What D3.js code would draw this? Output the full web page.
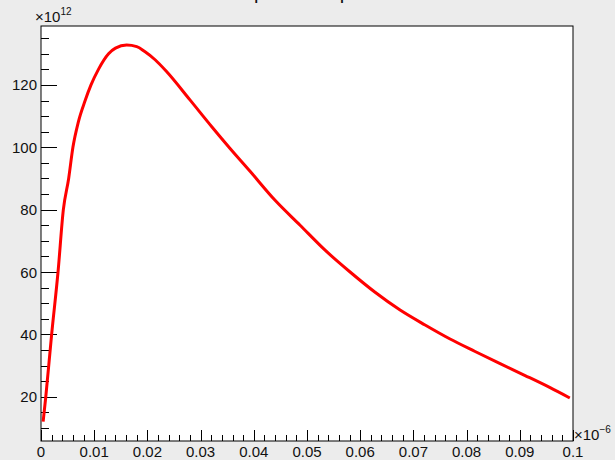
<!DOCTYPE html>
<html>
<head>
<meta charset="utf-8">
<script src="https://cdn.jsdelivr.net/npm/d3@7"></script>
<style>
  body { margin: 0; background: #ececec; }
  svg { display: block; font-family: "Liberation Sans", Arial, sans-serif; }
</style>
</head>
<body>
<div id="chart"></div>
<script>
// pulse shape, x in units of 1e-6, y in units of 1e12
const xValues = [0.0004, 0.0009, 0.0020, 0.0032, 0.0042, 0.0052, 0.0060, 0.0070, 0.0083, 0.0094,
  0.0108, 0.0127, 0.0140, 0.0161, 0.0180, 0.0195, 0.0215, 0.0236, 0.0280, 0.0321,
  0.0355, 0.0393, 0.0440, 0.0487, 0.0534, 0.0581, 0.0628, 0.0675, 0.0722, 0.0769,
  0.0816, 0.0863, 0.0910, 0.0957, 0.0994];
const yValues = [12, 20, 40, 60, 80, 90, 100, 108, 115, 120,
  125, 130, 131.8, 132.8, 132.3, 130.7, 128, 124.3, 115.2, 106.6,
  99.7, 92.3, 83, 75, 67, 60, 53.5, 47.8, 43, 38.5,
  34.5, 30.6, 26.8, 22.9, 19.6];
const xTicks = [0, 0.01, 0.02, 0.03, 0.04, 0.05, 0.06, 0.07, 0.08, 0.09, 0.1];
const yTicks = [20, 40, 60, 80, 100, 120];
const titleText = "pulse shape";

const W = 615, H = 460;
const frame = {left: 41, right: 573, top: 26, bottom: 441};

const svg = d3.select("#chart").append("svg")
  .attr("width", W).attr("height", H);

svg.append("rect").attr("width", W).attr("height", H).attr("fill", "#ececec");

let x = d3.scaleLinear().domain([0, 0.1]).range([frame.left, frame.right]);
let y = d3.scaleLinear().domain([5.8, 138.9]).range([frame.bottom, frame.top]);

// frame
svg.append("rect")
  .attr("x", frame.left).attr("y", frame.top)
  .attr("width", frame.right - frame.left).attr("height", frame.bottom - frame.top)
  .attr("fill", "#fff").attr("stroke", "#000").attr("stroke-width", 1);

// x axis ticks (major + minor), drawn upward into the frame
const xAxis = svg.append("g").attr("stroke", "#000").attr("stroke-width", 1);
d3.range(0, 51).forEach(i => {
  let v = i * 0.002;
  let len = (i % 5 === 0) ? 11 : 6;
  let px = Math.round(x(v)) + 0.5;
  xAxis.append("line")
    .attr("x1", px).attr("x2", px)
    .attr("y1", frame.bottom).attr("y2", frame.bottom - len);
});
svg.append("g").selectAll("text").data(xTicks).join("text")
  .attr("x", d => x(d)).attr("y", 457)
  .attr("text-anchor", "middle")
  .attr("font-size", 15).attr("fill", "#111")
  .text(d => d3.format("~g")(d));

// y axis ticks (major every 20, minor every 5)
const yAxis = svg.append("g").attr("stroke", "#000").attr("stroke-width", 1);
d3.range(10, 139, 5).forEach(v => {
  let len = (v % 20 === 0) ? 16 : 8;
  let py = Math.round(y(v)) + 0.5;
  yAxis.append("line")
    .attr("x1", frame.left).attr("x2", frame.left + len)
    .attr("y1", py).attr("y2", py);
});
svg.append("g").selectAll("text").data(yTicks).join("text")
  .attr("x", 37).attr("y", d => y(d) + 5.5)
  .attr("text-anchor", "end")
  .attr("font-size", 15).attr("fill", "#111")
  .text(d => d);

// exponent labels
let expY = svg.append("text").attr("x", 35).attr("y", 22).attr("font-size", 15).attr("fill", "#111");
expY.append("tspan").text("\u00d710");
expY.append("tspan").attr("dy", -7).attr("font-size", 10).text("12");

let expX = svg.append("text").attr("x", 574).attr("y", 440).attr("font-size", 15).attr("fill", "#111");
expX.append("tspan").text("\u00d710");
expX.append("tspan").attr("dy", -7).attr("font-size", 10).text("\u22126");

// title, cut off at the top like in the original canvas
svg.append("text").attr("x", 308).attr("y", -1)
  .attr("text-anchor", "middle").attr("font-size", 20).attr("fill", "#111")
  .text(titleText);

// curve
const points = xValues.map((d, i) => [d, yValues[i]]);
const line = d3.line()
  .x(d => x(d[0])).y(d => y(d[1]))
  .curve(d3.curveMonotoneX);
svg.append("path")
  .datum(points)
  .attr("d", line)
  .attr("fill", "none")
  .attr("stroke", "#ff0000")
  .attr("stroke-width", 3)
  .attr("stroke-linejoin", "round");
</script>
</body>
</html>
